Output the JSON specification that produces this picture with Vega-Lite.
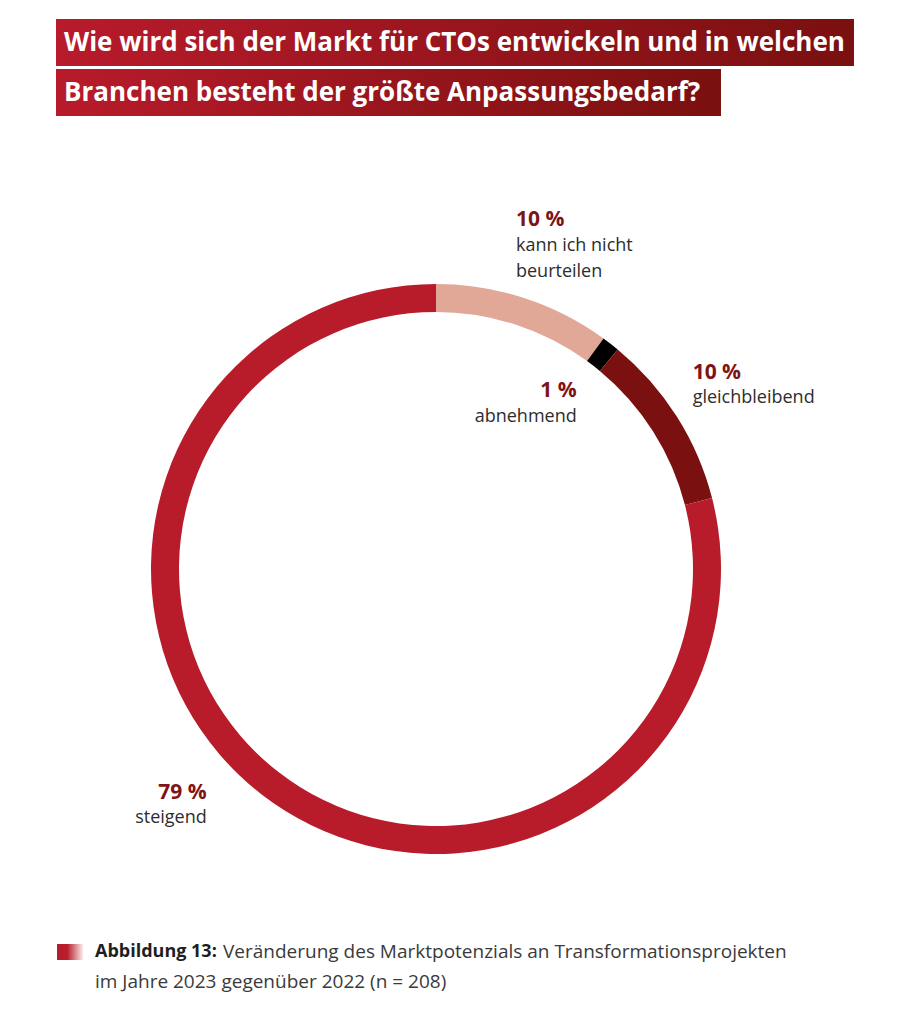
{
  "$schema": "https://vega.github.io/schema/vega-lite/v6.json",
  "background": "white",
  "padding": {"left": 56, "top": 19, "right": 10, "bottom": 10},
  "config": {"view": {"stroke": null}, "text": {"font": "Open Sans"}},
  "datasets": {
    "titel": [
      {"nr": 1, "zeile": "Wie wird sich der Markt für CTOs entwickeln und in welchen"},
      {"nr": 2, "zeile": "Branchen besteht der größte Anpassungsbedarf?"}
    ],
    "markt": [
      {"rang": 1, "kategorie": "kann ich nicht beurteilen", "beschriftung": "kann ich nicht\nbeurteilen", "anteil": 10, "prozent": "10 %"},
      {"rang": 2, "kategorie": "abnehmend", "beschriftung": "abnehmend", "anteil": 1, "prozent": "1 %"},
      {"rang": 3, "kategorie": "gleichbleibend", "beschriftung": "gleichbleibend", "anteil": 10, "prozent": "10 %"},
      {"rang": 4, "kategorie": "steigend", "beschriftung": "steigend", "anteil": 79, "prozent": "79 %"}
    ],
    "quelle": [
      {"zeile": 1, "teil": "fett", "text": "Abbildung 13:"},
      {"zeile": 1, "teil": "normal", "text": "Veränderung des Marktpotenzials an Transformationsprojekten"},
      {"zeile": 2, "teil": "normal", "text": "im Jahre 2023 gegenüber 2022 (n = 208)"}
    ]
  },
  "spacing": 5,
  "vconcat": [
    {
      "spacing": 90,
      "bounds": "flush",
      "vconcat": [
        {
          "width": 799,
          "height": 97,
          "data": {"name": "titel"},
          "transform": [{"calculate": "length(datum.zeile)", "as": "zeichen"}],
          "encoding": {
            "y": {"field": "nr", "type": "ordinal", "axis": null, "scale": {"paddingInner": 0.06, "paddingOuter": 0}}
          },
          "layer": [
            {
              "mark": {
                "type": "bar",
                "color": {
                  "gradient": "linear", "x1": 0, "y1": 0, "x2": 1, "y2": 0,
                  "stops": [
                    {"offset": 0, "color": "#b81b2b"},
                    {"offset": 1, "color": "#7a1010"}
                  ]
                }
              },
              "encoding": {
                "x": {"field": "zeichen", "type": "quantitative", "axis": null, "scale": {"domain": [-20, 58.1], "zero": false, "nice": false}},
                "x2": {"datum": -20}
              }
            },
            {
              "mark": {"type": "text", "align": "left", "baseline": "middle", "dx": 8, "color": "white", "font": "Open Sans", "fontWeight": "bold", "fontSize": 26},
              "encoding": {
                "x": {"datum": -20},
                "text": {"field": "zeile", "type": "nominal"}
              }
            }
          ]
        },
        {
          "width": 760,
          "height": 726,
          "data": {"name": "markt"},
          "encoding": {
            "theta": {"field": "anteil", "type": "quantitative", "stack": true},
            "order": {"field": "rang", "type": "quantitative"},
            "detail": {"field": "kategorie", "type": "nominal"}
          },
          "layer": [
            {
              "mark": {"type": "arc", "outerRadius": 285, "innerRadius": 257},
              "encoding": {
                "color": {
                  "field": "kategorie", "type": "nominal", "legend": null,
                  "scale": {
                    "domain": ["kann ich nicht beurteilen", "abnehmend", "gleichbleibend", "steigend"],
                    "range": ["#e1a797", "#000000", "#7b1010", "#b81c2a"]
                  }
                }
              }
            },
            {
              "mark": {"type": "text", "radius": 330, "align": "left", "baseline": "alphabetic", "dx": -22, "dy": -29, "fontSize": 21, "fontWeight": "bold", "color": "#7f1416"},
              "encoding": {"text": {"condition": {"test": "datum.rang === 1", "field": "prozent", "type": "nominal"}, "value": ""}}
            },
            {
              "mark": {"type": "text", "radius": 330, "align": "left", "baseline": "alphabetic", "dx": -22, "dy": -4, "fontSize": 18, "lineBreak": "\n", "lineHeight": 26, "color": "#2d2d2d"},
              "encoding": {"text": {"condition": {"test": "datum.rang === 1", "field": "beschriftung", "type": "nominal"}, "value": ""}}
            },
            {
              "mark": {"type": "text", "radius": 210, "align": "right", "baseline": "alphabetic", "dx": 12, "dy": -6, "fontSize": 21, "fontWeight": "bold", "color": "#7f1416"},
              "encoding": {"text": {"condition": {"test": "datum.rang === 2", "field": "prozent", "type": "nominal"}, "value": ""}}
            },
            {
              "mark": {"type": "text", "radius": 210, "align": "right", "baseline": "alphabetic", "dx": 12, "dy": 19, "fontSize": 18, "color": "#2d2d2d"},
              "encoding": {"text": {"condition": {"test": "datum.rang === 2", "field": "beschriftung", "type": "nominal"}, "value": ""}}
            },
            {
              "mark": {"type": "text", "radius": 330, "align": "left", "baseline": "alphabetic", "dx": -22, "dy": -13, "fontSize": 21, "fontWeight": "bold", "color": "#7f1416"},
              "encoding": {"text": {"condition": {"test": "datum.rang === 3", "field": "prozent", "type": "nominal"}, "value": ""}}
            },
            {
              "mark": {"type": "text", "radius": 330, "align": "left", "baseline": "alphabetic", "dx": -22, "dy": 11, "fontSize": 18, "color": "#2d2d2d"},
              "encoding": {"text": {"condition": {"test": "datum.rang === 3", "field": "beschriftung", "type": "nominal"}, "value": ""}}
            },
            {
              "mark": {"type": "text", "radius": 330, "align": "right", "baseline": "alphabetic", "dx": -27, "dy": -31, "fontSize": 21, "fontWeight": "bold", "color": "#7f1416"},
              "encoding": {"text": {"condition": {"test": "datum.rang === 4", "field": "prozent", "type": "nominal"}, "value": ""}}
            },
            {
              "mark": {"type": "text", "radius": 330, "align": "right", "baseline": "alphabetic", "dx": -27, "dy": -7, "fontSize": 18, "color": "#2d2d2d"},
              "encoding": {"text": {"condition": {"test": "datum.rang === 4", "field": "beschriftung", "type": "nominal"}, "value": ""}}
            }
          ]
        }
      ]
    },
    {
      "width": 799,
      "height": 60,
      "data": {"name": "quelle"},
      "encoding": {
        "y": {"field": "zeile", "type": "ordinal", "axis": null, "scale": {"paddingInner": 0, "paddingOuter": 0}}
      },
      "layer": [
        {
          "transform": [{"filter": "datum.teil === 'fett'"}],
          "mark": {
            "type": "point", "x": 14, "size": 676, "filled": true, "opacity": 1, "strokeWidth": 0,
            "shape": "M-1,-0.6154L1,-0.6154L1,0.6154L-1,0.6154Z",
            "fill": {
              "gradient": "linear", "x1": 0, "y1": 0, "x2": 1, "y2": 0,
              "stops": [
                {"offset": 0, "color": "#b51b2a"},
                {"offset": 0.4, "color": "#ba1e2d"},
                {"offset": 1, "color": "#fbecec"}
              ]
            }
          }
        },
        {
          "transform": [{"filter": "datum.teil === 'fett'"}],
          "mark": {"type": "text", "x": 39, "align": "left", "baseline": "middle", "fontSize": 18, "fontWeight": "bold", "color": "#1e1e1e"},
          "encoding": {"text": {"field": "text", "type": "nominal"}}
        },
        {
          "transform": [{"filter": "datum.teil === 'normal' && datum.zeile === 1"}],
          "mark": {"type": "text", "x": 167, "align": "left", "baseline": "middle", "fontSize": 19, "color": "#3a3a3a"},
          "encoding": {"text": {"field": "text", "type": "nominal"}}
        },
        {
          "transform": [{"filter": "datum.teil === 'normal' && datum.zeile === 2"}],
          "mark": {"type": "text", "x": 39, "align": "left", "baseline": "middle", "fontSize": 19, "color": "#3a3a3a"},
          "encoding": {"text": {"field": "text", "type": "nominal"}}
        }
      ]
    }
  ]
}
